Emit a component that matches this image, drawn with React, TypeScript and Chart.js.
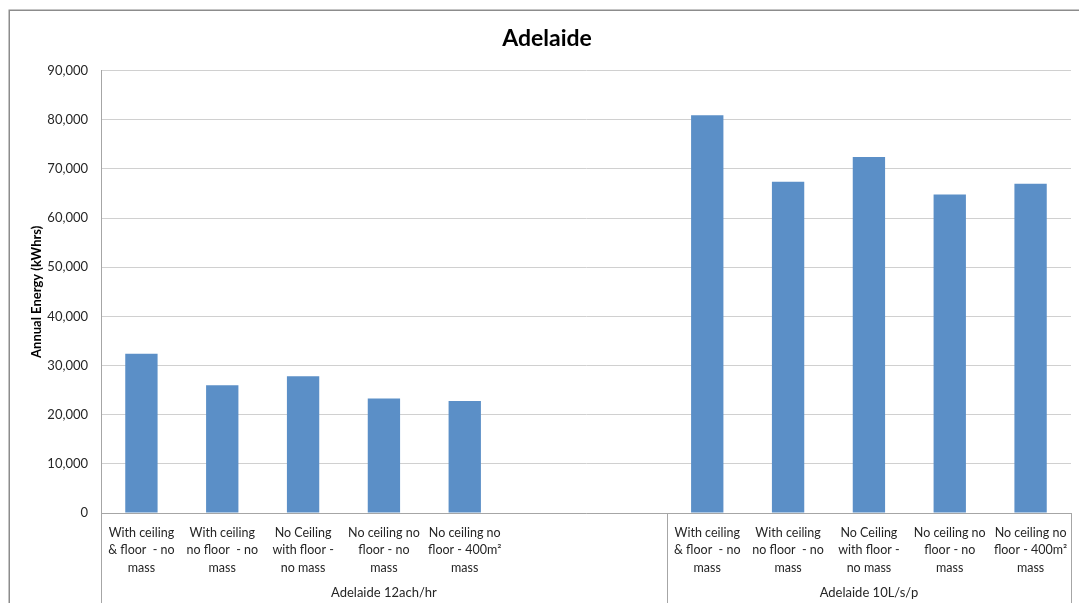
import React, { useEffect, useRef } from "react";
import { Chart, registerables } from "chart.js";

Chart.register(...registerables);

const chartTitle = "Adelaide";
const yAxisTitle = "Annual Energy (kWhrs)";

const scenarioLabels: string[][] = [
  ["With ceiling", "& floor  - no", "mass"],
  ["With ceiling", "no floor  - no", "mass"],
  ["No Ceiling", "with floor -", "no mass"],
  ["No ceiling no", "floor - no", "mass"],
  ["No ceiling no", "floor - 400m²", "mass"],
];

const groupNames = ["Adelaide 12ach/hr", "Adelaide 10L/s/p"];
// number of category slots in each group (first group has two empty slots)
const groupSlots = [7, 5];

const values12ach = [32400, 26000, 27800, 23300, 22800];
const values10Lsp = [80900, 67400, 72400, 64800, 67000];

const yTicks = [0, 10000, 20000, 30000, 40000, 50000, 60000, 70000, 80000, 90000];

const BAR_COLOR = "#5b8fc7";
const GRID_COLOR = "#d0d0d0";
const AXIS_COLOR = "#a6a6a6";
const FONT = "Lato, 'Open Sans', sans-serif";

function buildData() {
  const labels: (string | string[])[] = [];
  const data: (number | null)[] = [];
  const groups = [values12ach, values10Lsp];
  groups.forEach((vals, gi) => {
    for (let i = 0; i < groupSlots[gi]; i++) {
      if (i < vals.length) {
        labels.push(scenarioLabels[i]);
        data.push(vals[i]);
      } else {
        labels.push("");
        data.push(null);
      }
    }
  });
  return { labels, data };
}

const decorPlugin = {
  id: "decor",
  beforeDraw(chart: any) {
    const { ctx, width, height } = chart;
    ctx.save();
    ctx.fillStyle = "#ffffff";
    ctx.fillRect(0, 0, width, height);
    ctx.strokeStyle = "#8c8c8c";
    ctx.lineWidth = 1.5;
    ctx.strokeRect(9.25, 10.25, 1078, 640);
    ctx.restore();
  },
  afterDraw(chart: any) {
    const { ctx, chartArea } = chart;
    const x = chart.scales.x;
    const bottom = chart.height;
    const boundaries: number[] = [x.left];
    let idx = 0;
    groupSlots.forEach((n) => {
      idx += n;
      if (idx < chart.data.labels.length) {
        boundaries.push((x.getPixelForValue(idx - 1) + x.getPixelForValue(idx)) / 2);
      } else {
        boundaries.push(x.right);
      }
    });
    ctx.save();
    ctx.strokeStyle = AXIS_COLOR;
    ctx.lineWidth = 1;
    boundaries.forEach((b) => {
      const px = Math.round(b) + 0.5;
      ctx.beginPath();
      ctx.moveTo(px, chartArea.bottom);
      ctx.lineTo(px, bottom);
      ctx.stroke();
    });
    ctx.fillStyle = "#262626";
    ctx.font = `13px ${FONT}`;
    ctx.textAlign = "center";
    ctx.textBaseline = "middle";
    groupNames.forEach((g, i) => {
      const cx = (boundaries[i] + boundaries[i + 1]) / 2;
      ctx.fillText(g, cx, 593);
    });
    ctx.restore();
  },
};

export default function App() {
  const ref = useRef<HTMLCanvasElement | null>(null);
  useEffect(() => {
    document.body.style.margin = "0";
    document.body.style.overflow = "hidden";
    const { labels, data } = buildData();
    const chart = new Chart(ref.current as HTMLCanvasElement, {
      type: "bar",
      data: {
        labels,
        datasets: [
          {
            data,
            backgroundColor: BAR_COLOR,
            barPercentage: 0.4,
            categoryPercentage: 1,
          },
        ],
      },
      options: {
        responsive: false,
        animation: false,
        devicePixelRatio: 1,
        layout: { padding: { left: 23, right: 24, top: 14, bottom: 10 } },
        plugins: {
          legend: { display: false },
          tooltip: { enabled: false },
          title: {
            display: true,
            text: chartTitle,
            color: "#000000",
            font: { family: FONT, size: 23, weight: "bold" },
            padding: { top: 11, bottom: 18 },
          },
        },
        scales: {
          x: {
            grid: { display: false },
            border: { display: true, color: AXIS_COLOR },
            ticks: {
              autoSkip: false,
              maxRotation: 0,
              minRotation: 0,
              color: "#262626",
              padding: 3,
              font: { family: FONT, size: 12.5, lineHeight: 1.4 },
            },
            afterFit(scale: any) {
              scale.height = 97;
            },
          },
          y: {
            min: 0,
            max: 90000,
            afterBuildTicks(scale: any) {
              scale.ticks = yTicks.map((v) => ({ value: v }));
            },
            grid: { color: GRID_COLOR, drawTicks: false },
            border: { display: true, color: AXIS_COLOR },
            ticks: {
              color: "#262626",
              padding: 13,
              font: { family: FONT, size: 13 },
              callback: (v: any) => Number(v).toLocaleString("en-US"),
            },
            title: {
              display: true,
              text: yAxisTitle,
              color: "#000000",
              font: { family: FONT, size: 13, weight: "bold" },
              padding: { top: 6, bottom: 0 },
            },
            afterFit(scale: any) {
              scale.width = 78;
            },
          },
        },
      },
      plugins: [decorPlugin],
    });
    return () => chart.destroy();
  }, []);
  return (
    <div style={{ position: "fixed", left: 0, top: 0, width: 1079, height: 603, overflow: "hidden" }}>
      <canvas ref={ref} width={1095} height={620} style={{ width: 1095, height: 620, display: "block" }} />
    </div>
  );
}
